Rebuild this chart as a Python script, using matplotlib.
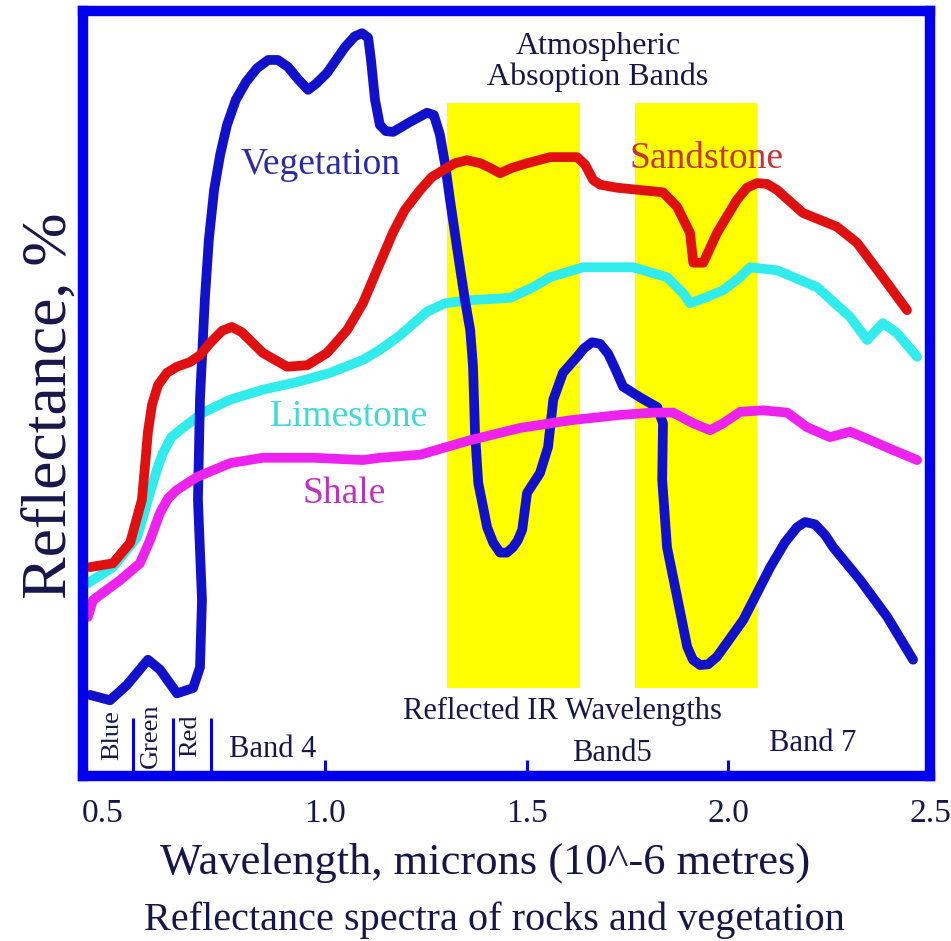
import matplotlib
matplotlib.use("Agg")
import matplotlib.pyplot as plt

plt.rcParams['font.family'] = ['Liberation Serif', 'DejaVu Serif']

# wavelength (microns) / reflectance (%) traced spectra
veg_x = [0.417, 0.467, 0.509, 0.561, 0.591, 0.633, 0.673, 0.690, 0.695, 0.685,
         0.690, 0.702, 0.712, 0.725, 0.740, 0.757, 0.779, 0.804, 0.831, 0.859,
         0.883, 0.908, 0.933, 0.958, 0.978, 1.005, 1.050, 1.074, 1.092, 1.107,
         1.114, 1.124, 1.136, 1.151, 1.169, 1.211, 1.253, 1.270, 1.285, 1.298,
         1.310, 1.328, 1.347, 1.360, 1.367, 1.372, 1.380, 1.402, 1.417, 1.434,
         1.451, 1.466, 1.478, 1.489, 1.501, 1.533, 1.553, 1.566, 1.590, 1.625,
         1.642, 1.662, 1.682, 1.702, 1.719, 1.739, 1.781, 1.824, 1.838, 1.836,
         1.848, 1.873, 1.898, 1.912, 1.930, 1.950, 1.972, 2.037, 2.104, 2.140,
         2.170, 2.190, 2.215, 2.240, 2.260, 2.327, 2.394, 2.458]
veg_y = [10.6, 9.9, 11.9, 15.2, 13.9, 10.8, 11.5, 14.2, 23.0, 36.1,
         49.2, 62.2, 70.1, 76.6, 81.2, 85.1, 88.4, 90.7, 92.5, 93.6,
         93.6, 92.7, 91.1, 89.7, 90.5, 91.9, 95.3, 96.7, 97.1, 96.5,
         93.6, 88.4, 85.1, 84.3, 84.2, 85.5, 86.7, 86.4, 83.8, 79.9,
         75.3, 68.8, 62.2, 58.3, 53.5, 44.8, 38.3, 32.5, 30.5, 29.2,
         29.2, 29.9, 30.8, 32.2, 37.0, 39.6, 43.0, 49.2, 52.7, 54.8,
         55.9, 56.7, 56.5, 55.2, 53.3, 50.9, 49.5, 48.2, 46.1, 38.7,
         29.9, 23.4, 16.9, 15.2, 14.5, 14.6, 15.6, 20.4, 27.3, 30.5,
         32.5, 33.2, 32.9, 31.5, 29.9, 25.6, 20.8, 15.2]

sand_x = [0.417, 0.474, 0.517, 0.546, 0.554, 0.561, 0.571, 0.586, 0.608, 0.633,
          0.665, 0.690, 0.715, 0.745, 0.769, 0.794, 0.846, 0.906, 0.956, 1.005,
          1.055, 1.094, 1.131, 1.169, 1.198, 1.236, 1.265, 1.293, 1.322, 1.352,
          1.385, 1.409, 1.434, 1.464, 1.501, 1.558, 1.625, 1.645, 1.665, 1.682,
          1.724, 1.838, 1.873, 1.905, 1.913, 1.938, 1.972, 2.021, 2.046, 2.071,
          2.096, 2.121, 2.185, 2.269, 2.319, 2.383, 2.443]
sand_y = [27.3, 27.8, 30.5, 36.1, 40.7, 45.0, 48.5, 51.1, 52.7, 53.5,
          54.1, 55.0, 56.6, 58.2, 58.7, 58.0, 55.3, 53.5, 53.7, 55.3,
          58.3, 61.8, 66.4, 71.1, 74.0, 76.6, 78.3, 79.2, 80.1, 80.5,
          80.1, 79.5, 78.8, 79.5, 80.1, 80.9, 80.9, 79.9, 77.9, 77.3,
          76.9, 76.3, 74.4, 71.0, 67.1, 67.1, 71.0, 75.3, 76.9, 77.5,
          77.4, 76.6, 73.6, 71.8, 69.7, 65.2, 60.9]

lime_x = [0.412, 0.474, 0.534, 0.566, 0.583, 0.598, 0.618, 0.640, 0.698, 0.765,
          0.846, 0.931, 1.013, 1.094, 1.136, 1.186, 1.253, 1.298, 1.360, 1.459,
          1.516, 1.558, 1.640, 1.764, 1.848, 1.888, 1.905, 1.942, 1.987, 2.029,
          2.054, 2.121, 2.220, 2.302, 2.344, 2.383, 2.418, 2.468]
lime_y = [25.2, 27.3, 31.2, 37.0, 40.0, 42.2, 44.2, 45.2, 47.5, 49.2,
          50.5, 51.5, 52.7, 54.4, 55.7, 57.6, 60.7, 61.8, 62.2, 62.5,
          63.9, 65.2, 66.5, 66.5, 65.2, 63.1, 61.8, 62.5, 63.5, 65.2,
          66.5, 66.1, 63.9, 60.0, 57.0, 59.2, 57.9, 54.8]

shale_x = [0.412, 0.425, 0.492, 0.541, 0.566, 0.591, 0.611, 0.633, 0.683, 0.765,
           0.846, 0.970, 1.094, 1.136, 1.236, 1.360, 1.484, 1.608, 1.732, 1.814,
           1.863, 1.913, 1.955, 1.987, 2.029, 2.086, 2.146, 2.195, 2.252, 2.302,
           2.352, 2.409, 2.468]
shale_y = [20.8, 23.0, 25.6, 27.8, 30.8, 34.4, 36.3, 37.4, 39.1, 40.9,
           41.6, 41.6, 41.3, 41.6, 42.0, 43.9, 45.5, 46.5, 47.2, 47.5,
           47.5, 46.1, 45.2, 46.1, 47.6, 47.8, 47.5, 45.6, 44.3, 45.0,
           43.9, 42.6, 41.3]

# atmospheric absorption bands
band_lo = [1.303, 1.769]
band_hi = [1.633, 2.071]
band_bottom = 11.5
band_top = 88.0

# visible band dividers and their names
vis_edges = [0.524, 0.623, 0.717]
vis_names = ['Blue', 'Green', 'Red']
vis_centres = [0.472, 0.569, 0.665]

tick_pos = [0.5, 1.0, 1.5, 2.0, 2.5]
tick_lab = ['0.5', '1.0', '1.5', '2.0', '2.5']

frame_col = '#0000ee'
navy = '#16164a'

fig = plt.figure(figsize=(9.51, 9.41), dpi=100)
ax = fig.add_axes([83 / 951, 165 / 941, 847 / 951, 765 / 941])
ax.set_xlim(0.4, 2.5)
ax.set_ylim(0, 100)

for lo, hi in zip(band_lo, band_hi):
    ax.fill_between([lo, hi], band_bottom, band_top, color='#ffff00', lw=0, zorder=1)

kw = dict(lw=7, solid_joinstyle='round', solid_capstyle='round')
ax.plot(lime_x, lime_y, color='#30ecec', zorder=3, **kw)
ax.plot(veg_x, veg_y, color='#1111cc', zorder=4, **kw)
ax.plot(sand_x, sand_y, color='#e01010', zorder=5, **kw)
ax.plot(shale_x, shale_y, color='#ee22ee', zorder=6, **kw)

ax.text(0.988, 78.7, 'Vegetation', color='#2b2ba6', fontsize=27, ha='center', va='baseline')
ax.text(1.945, 79.5, 'Sandstone', color='#c83232', fontsize=27, ha='center', va='baseline')
ax.text(1.060, 45.8, 'Limestone', color='#40d8d8', fontsize=27, ha='center', va='baseline')
ax.text(1.047, 35.7, 'Shale', color='#c030c0', fontsize=27, ha='center', va='baseline')

ax.text(1.677, 93.3, 'Atmospheric\nAbsoption Bands', color=navy, fontsize=23,
        ha='center', va='center', linespacing=1.05)
ax.text(1.588, 8.4, 'Reflected IR Wavelengths', color=navy, fontsize=22,
        ha='center', va='center')
ax.text(0.871, 3.4, 'Band 4', color=navy, fontsize=22, ha='center', va='center')
ax.text(1.712, 3.0, 'Band5', color=navy, fontsize=22, ha='center', va='center')
ax.text(2.210, 4.3, 'Band 7', color=navy, fontsize=22, ha='center', va='center')

ax.vlines(vis_edges, 0, 7.6, color=frame_col, lw=2.2, zorder=7)
for xc, name in zip(vis_centres, vis_names):
    ax.text(xc, 5.3, name, color=navy, fontsize=19, rotation=90,
            ha='center', va='center')

for s in ax.spines.values():
    s.set_color(frame_col)
    s.set_linewidth(7.5)
    s.set_zorder(8)

ax.set_yticks([])
ax.set_xticks(tick_pos, tick_lab)
ax.tick_params(axis='x', direction='in', length=11.5, width=2.2, color=frame_col,
               pad=16, labelsize=24, labelcolor=navy)
ticks = ax.xaxis.get_major_ticks()
ticks[0].tick1line.set_visible(False)
ticks[-1].tick1line.set_visible(False)
ax.get_xticklabels()[0].set_ha('right')

ax.set_xlabel('Wavelength, microns (10^-6 metres)', fontsize=32, color=navy, va='baseline')
ax.xaxis.set_label_coords(0.475, -0.127)
ax.set_ylabel('Reflectance, %', fontsize=46, color=navy, va='baseline')
ax.yaxis.set_label_coords(-0.021, 0.484)

fig.text(494 / 951, 1 - 930 / 941, 'Reflectance spectra of rocks and vegetation',
         fontsize=29, color=navy, ha='center', va='baseline')

fig.savefig('out.png', dpi=100, facecolor='white')
